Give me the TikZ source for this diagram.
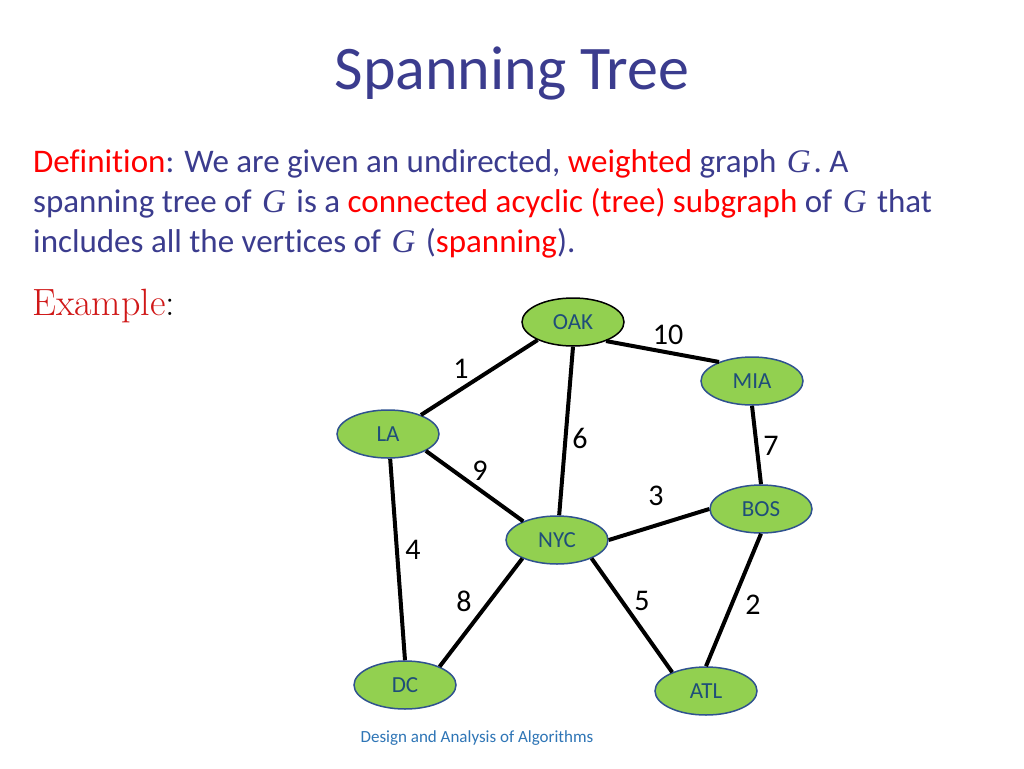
\documentclass[tikz,border=0pt]{standalone}
\usepackage{fontspec}
\setmainfont[Ligatures=NoCommon]{Carlito}
\newfontfamily\lmserif{Latin Modern Roman}
\newfontfamily\gfont{Liberation Serif}
\newcommand{\gvar}{\hspace{3pt}{\gfont\itshape G}\hspace{3pt}}
\usetikzlibrary{shapes.geometric}
\definecolor{bodyblue}{HTML}{3B3C8E}
\definecolor{nodegreen}{HTML}{92D050}
\definecolor{nodeborder}{HTML}{2F528F}
\definecolor{nodetext}{HTML}{1F4E79}
\definecolor{footblue}{HTML}{2E75B6}
\definecolor{myred}{HTML}{FF0000}
\definecolor{exred}{HTML}{D01818}
\tikzset{
  city/.style={ellipse, draw=nodeborder, line width=1.5pt, fill=nodegreen, minimum width=102pt, minimum height=48pt, inner sep=0pt, text=nodetext, font=\fontsize{23}{26}\selectfont},
  road/.style={line width=4pt, black},
  wt/.style={font=\fontsize{30}{34}\selectfont, text=black, inner sep=0pt},
  bodytext/.style={anchor=base west, inner sep=0pt, text=bodyblue, font=\fontsize{33}{38}\selectfont}
}
\begin{document}
\begin{tikzpicture}[x=1pt,y=-1pt]
\useasboundingbox[fill=white] (0,0) rectangle (1024,768);
\node[anchor=base, inner sep=0pt, text=bodyblue, font=\fontsize{62}{70}\selectfont] (title) at (512,89) {Spanning Tree};
\node[bodytext] (l1) at (33,172) {\textcolor{myred}{Definition}: We are given an undirected, \textcolor{myred}{weighted} graph \gvar. A};
\node[bodytext] (l2) at (33,212) {spanning tree of \gvar{} is a \textcolor{myred}{connected acyclic (tree) subgraph} of \gvar{} that};
\node[bodytext] (l3) at (33,252) {includes all the vertices of \gvar{} (\textcolor{myred}{spanning}).};
\node[anchor=base west, inner sep=0pt, font=\lmserif\fontsize{38}{42}\selectfont] (ex) at (32,315) {\textcolor{exred}{Example}:};

\node[city, draw=black] (OAK) at (573,322) {OAK};
\node[city] (MIA) at (752,381) {MIA};
\node[city] (LA) at (388,434) {LA};
\node[city] (BOS) at (761,509) {BOS};
\node[city] (NYC) at (557,540) {NYC};
\node[city] (DC) at (405,685) {DC};
\node[city] (ATL) at (706,691) {ATL};

\draw[road] (OAK.207) -- (LA.30);
\draw[road] (OAK.330) -- (MIA.150);
\draw[road] (OAK.270) -- (NYC.85);
\draw[road] (MIA.270) -- (BOS.90);
\draw[road] (LA.336) -- (NYC.151);
\draw[road] (LA.275) -- (DC.90);
\draw[road] (NYC.0) -- (BOS.180);
\draw[road] (NYC.208) -- (DC.28);
\draw[road] (NYC.332) -- (ATL.151);
\draw[road] (BOS.270) -- (ATL.90);

\node[wt] (w1) at (461,369) {1};
\node[wt] (w10) at (668,335) {10};
\node[wt] (w6) at (580,438) {6};
\node[wt] (w7) at (771,446) {7};
\node[wt] (w9) at (480,471) {9};
\node[wt] (w3) at (656,496) {3};
\node[wt] (w4) at (413,550) {4};
\node[wt] (w8) at (464,601) {8};
\node[wt] (w5) at (642,601) {5};
\node[wt] (w2) at (753,605) {2};

\node[anchor=center, inner sep=0pt, text=footblue, font=\fontsize{17}{20}\selectfont] (foot) at (477,738) {Design and Analysis of Algorithms};
\end{tikzpicture}
\end{document}
